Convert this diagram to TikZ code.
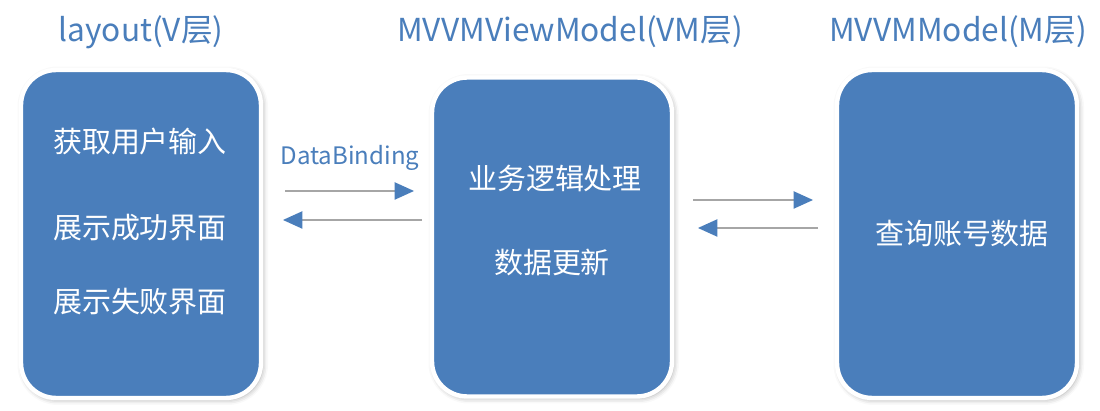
\documentclass[tikz,border=0pt]{standalone}
\usepackage{fontspec}
\setmainfont{Noto Sans CJK SC}
\usepackage{tikz}
\usetikzlibrary{shadows,shadows.blur,arrows.meta,positioning}
\definecolor{mvblue}{HTML}{4A7EBB}
\definecolor{shaftgray}{HTML}{A6A6A6}

\begin{document}
\begin{tikzpicture}[x=0.02cm,y=-0.02cm,
  box/.style={rectangle,rounded corners=0.7cm,fill=mvblue,draw=white,line width=2.5pt,
    minimum width=4.8cm,minimum height=6.5cm,
    blur shadow={shadow xshift=1pt,shadow yshift=-1pt,shadow blur radius=3pt,shadow opacity=35}},
  title/.style={text=mvblue,font=\fontsize{18}{22}\selectfont},
  body/.style={text=white,font=\fontsize{16.5}{20}\selectfont},
  link/.style={draw=shaftgray,line width=1.1pt,
    -{Triangle[length=11pt,width=10pt,fill=mvblue,color=mvblue,line width=0pt]}}]
\useasboundingbox (0,0) rectangle (1100,411);
% the three layers
\draw (141,234) node[box,minimum height=6.56cm] (v) {};
\draw (552,237) node[box,minimum height=6.38cm] (vm) {};
\draw (957,234) node[box,minimum height=6.56cm] (m) {};
\draw (141,32) node[title] (vtitle) {layout(V层)};
\draw (570,32) node[title] (vmtitle) {MVVMViewModel(VM层)};
\draw (958,32) node[title] (mtitle) {MVVMModel(M层)};
% texts in the boxes
\draw (140,142) node[body] (v1) {获取用户输入};
\draw (140,228) node[body] (v2) {展示成功界面};
\draw (140,302) node[body] (v3) {展示失败界面};
\draw (555,178) node[body] (vm1) {业务逻辑处理};
\draw (552,262) node[body] (vm2) {数据更新};
\draw (962,234) node[body] (m1) {查询账号数据};
% binding arrows
\coordinate (vout) at (285,191);
\coordinate (vmin) at (414,191);
\coordinate (vmout) at (422,220);
\coordinate (vin) at (283,220);
\coordinate (vmout2) at (693,200);
\coordinate (min) at (813,200);
\coordinate (mout) at (818,228);
\coordinate (vmin2) at (698,228);
\draw (350,158) node[title,font=\fontsize{13.7}{16}\selectfont] (db) {DataBinding};
\draw[link] (vout) -- (vmin);
\draw[link] (vmout) -- (vin);
\draw[link] (vmout2) -- (min);
\draw[link] (mout) -- (vmin2);
\end{tikzpicture}
\end{document}
